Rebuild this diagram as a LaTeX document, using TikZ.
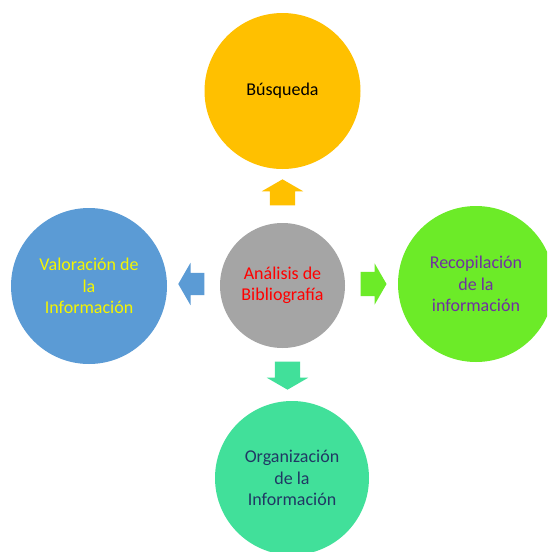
\documentclass[tikz,border=0pt]{standalone}
\usepackage{fontspec}
\setmainfont{Carlito}
\usepackage{tikz}
\usetikzlibrary{shapes.arrows}

\definecolor{orangeB}{HTML}{FFC000}
\definecolor{blueV}{HTML}{5B9BD5}
\definecolor{greenR}{HTML}{6CEB28}
\definecolor{tealO}{HTML}{41E09A}
\definecolor{grayA}{HTML}{A5A5A5}
\definecolor{purpleT}{HTML}{7030A0}
\definecolor{navyT}{HTML}{203864}
\definecolor{yellowT}{HTML}{F5F500}

\tikzset{
  phase/.style={circle,inner sep=2pt,minimum size=#1,align=center,
    font=\fontsize{18}{21.5}\selectfont},
  blockarrow/.style={single arrow,draw=none,inner xsep=0pt,inner ysep=12.5pt,
    minimum height=26pt,single arrow head extend=8pt,single arrow tip angle=120}
}

\begin{document}
\begin{tikzpicture}[x=1pt,y=-1pt]
  \clip (0,0) rectangle (547,552);
  \fill[white] (0,0) rectangle (547,552);
  \node[phase=125pt,fill=grayA,text=red](analisis) at (282.5,285.5){Análisis de\\Bibliografía};
  \node[phase=156pt,fill=orangeB,text=black](busqueda) at (282.5,91){Búsqueda};
  \node[phase=156pt,fill=blueV,text=yellowT](valoracion) at (89,286){Valoración de\\la\\Información};
  \node[phase=156pt,fill=greenR,text=purpleT](recopilacion) at (476,284){Recopilación\\de la\\información};
  \node[phase=154pt,fill=tealO,text=navyT](organizacion) at (292,478){Organización\\de la\\Información};
  % flechas
  \node[blockarrow,fill=orangeB,rotate=90](up) at (282.5,196){};
  \node[blockarrow,fill=blueV,rotate=180,inner ysep=11pt,single arrow head extend=10pt](left) at (194.5,284){};
  \node[blockarrow,fill=greenR,inner ysep=12pt,single arrow head extend=8.5pt](right) at (370,284){};
  \node[blockarrow,fill=tealO,rotate=-90,minimum height=28pt](down) at (287.5,372){};
\end{tikzpicture}
\end{document}
